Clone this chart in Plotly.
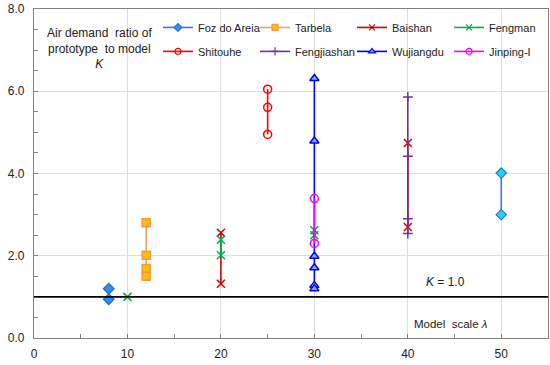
import plotly.graph_objects as go

# Data (None separates groups at different model scales)
foz_x = [8, 8]
foz_y = [1.20, 0.94]
foz50_x = [50, 50]
foz50_y = [4.01, 3.00]
tarbela_x = [12, 12, 12, 12]
tarbela_y = [2.80, 2.01, 1.69, 1.50]
baishan_x = [20, 20, None, 40, 40]
baishan_y = [2.56, 1.32, None, 4.74, 2.70]
fengman_x = [10, None, 20, 20, None, 30, 30]
fengman_y = [1.00, None, 2.39, 2.01, None, 2.62, 2.50]
shitouhe_x = [25, 25, 25]
shitouhe_y = [6.05, 5.61, 4.95]
fengjiashan_x = [40, 40, 40, 40]
fengjiashan_y = [5.86, 4.42, 2.90, 2.54]
wujiangdu_x = [30, 30, 30, 30, 30, 30]
wujiangdu_y = [6.31, 4.79, 1.99, 1.71, 1.28, 1.20]
jinping_x = [30, 30]
jinping_y = [3.39, 2.30]

x_ticks = [0, 10, 20, 30, 40, 50]
y_ticks = [0, 2, 4, 6, 8]

font = "Liberation Sans, Arial, sans-serif"

series = [
    # name, xs, ys, line color, symbol, marker fill, marker line, size, legend row
    ("Foz do Areia", foz_x, foz_y, "#3C78D8", "diamond", "#2E90F0", "#2E6FD0", 8, "legend"),
    ("Tarbela", tarbela_x, tarbela_y, "#F4A060", "square", "#FFC000", "#F79646", 8, "legend"),
    ("Baishan", baishan_x, baishan_y, "#D00000", "x-thin", "#D00000", "#D00000", 8, "legend"),
    ("Fengman", fengman_x, fengman_y, "#00B050", "x-thin", "#00B050", "#00B050", 8, "legend"),
    ("Shitouhe", shitouhe_x, shitouhe_y, "#FF0000", "circle-open", "#FF0000", "#FF0000", 8, "legend2"),
    ("Fengjiashan", fengjiashan_x, fengjiashan_y, "#7030A0", "cross-thin", "#7030A0", "#7030A0", 7, "legend2"),
    ("Wujiangdu", wujiangdu_x, wujiangdu_y, "#0000FF", "triangle-up", "#8EA9DB", "#0000FF", 8, "legend2"),
    ("Jinping-I", jinping_x, jinping_y, "#FF00FF", "circle-open", "#FF00FF", "#FF00FF", 8, "legend2"),
]

fig = go.Figure()

for name, xs, ys, lc, sym, mc, ml, sz, lg in series:
    fig.add_trace(go.Scatter(
        x=xs, y=ys, name=name, mode="lines+markers", showlegend=False,
        connectgaps=False,
        line=dict(color=lc, width=1.6),
        marker=dict(symbol=sym, size=sz, color=mc, line=dict(color=ml, width=1.5)),
    ))

# second diamond group at model scale 50 (not in legend)
fig.add_trace(go.Scatter(
    x=foz50_x, y=foz50_y, mode="lines+markers", showlegend=False,
    line=dict(color="#3C78D8", width=1.6),
    marker=dict(symbol="diamond", size=8, color="#22D4FF", line=dict(color="#1F6FD0", width=1.1)),
))

# legend entries (small symbols as in the reference), two rows of four
for name, xs, ys, lc, sym, mc, ml, sz, lg in series:
    fig.add_trace(go.Scatter(
        x=[None], y=[None], name=name, mode="lines+markers", showlegend=True,
        legend=lg,
        line=dict(color=lc, width=1.6),
        marker=dict(symbol=sym, size=6, color=mc, line=dict(color=ml, width=1.2)),
    ))

fig.add_shape(type="line", xref="paper", x0=0, x1=1, yref="y", y0=1.0, y1=1.0,
              line=dict(color="black", width=1.6))

fig.add_annotation(xref="x", yref="y", x=7.0, y=7.03,
                   text="Air demand  ratio of<br>prototype  to model<br><i>K</i>",
                   showarrow=False, font=dict(family=font, size=12, color="#222"),
                   align="center")
fig.add_annotation(xref="x", yref="y", x=44.0, y=1.36, text="<i>K</i> = 1.0",
                   showarrow=False, font=dict(family=font, size=12, color="#222"))
fig.add_annotation(xref="x", yref="y", x=44.6, y=0.33, text="Model  scale <i>λ</i>",
                   showarrow=False, font=dict(family=font, size=11.5, color="#222"))

axis_common = dict(showline=True, linecolor="#808080", linewidth=1.2, mirror=True,
                   showgrid=True, gridcolor="#DEDEDE", gridwidth=1,
                   ticks="inside", ticklen=4, tickcolor="#808080", zeroline=False,
                   tickfont=dict(family=font, size=12, color="#222"))

fig.update_xaxes(range=[0, 55], tickvals=x_ticks, ticktext=[str(v) for v in x_ticks],
                 minor=dict(dtick=5, tick0=0, ticks="inside", ticklen=4, tickcolor="#808080", showgrid=False),
                 ticklabelstandoff=4, **axis_common)
fig.update_yaxes(range=[0, 8], tickvals=y_ticks, ticktext=[f"{v:.1f}" for v in y_ticks],
                 minor=dict(dtick=0.5, tick0=0, ticks="inside", ticklen=4, tickcolor="#808080", showgrid=False),
                 ticklabelstandoff=6, **axis_common)

legend_common = dict(orientation="h", x=0.2413, xanchor="left", yanchor="top",
                     entrywidth=52, entrywidthmode="pixels", itemwidth=30,
                     bgcolor="rgba(0,0,0,0)", font=dict(family=font, size=11, color="#222"),
                     tracegroupgap=0, itemsizing="trace")

fig.update_layout(
    width=550, height=365,
    margin=dict(l=34, r=2, t=9, b=27, autoexpand=False),
    plot_bgcolor="white", paper_bgcolor="white",
    font=dict(family=font, size=12, color="#222"),
    legend=dict(y=0.988, **legend_common),
    legend2=dict(y=0.9152, **legend_common),
)

fig.write_html("out.html", config={"displayModeBar": False},
               post_script="document.body.style.margin='0';")
